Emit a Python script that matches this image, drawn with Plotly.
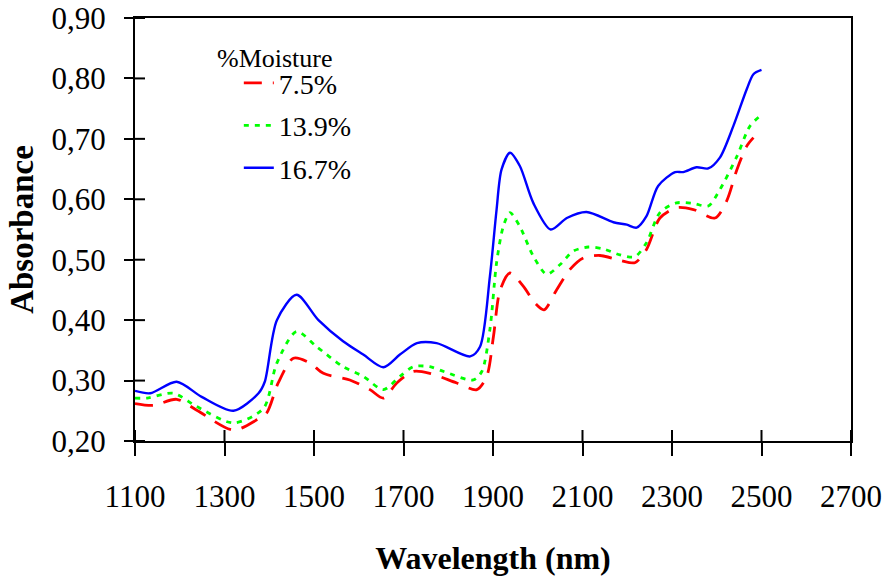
import plotly.graph_objects as go

# ---- data ----
series_names = ["7.5%", "13.9%", "16.7%"]

wl_75 = [1100, 1141, 1193, 1238, 1320, 1372, 1394, 1420, 1454, 1491, 1521, 1580, 1625, 1655,
         1685, 1722, 1759, 1819, 1864, 1886, 1901, 1916, 1938, 1968, 1994, 2014, 2042, 2072,
         2102, 2139, 2184, 2217, 2243, 2273, 2310, 2348, 2396, 2422, 2445, 2467, 2482]
abs_75 = [0.262, 0.259, 0.269, 0.251, 0.218, 0.235, 0.246, 0.296, 0.337, 0.329, 0.312, 0.301,
          0.285, 0.271, 0.296, 0.315, 0.312, 0.296, 0.285, 0.307, 0.373, 0.450, 0.478, 0.456,
          0.428, 0.417, 0.450, 0.484, 0.503, 0.507, 0.499, 0.495, 0.517, 0.569, 0.586, 0.583,
          0.569, 0.597, 0.649, 0.688, 0.702]

wl_139 = [1100, 1127, 1186, 1238, 1320, 1387, 1417, 1461, 1506, 1565, 1610, 1655, 1692, 1722,
          1759, 1790, 1856, 1875, 1893, 1908, 1923, 1938, 1960, 1990, 2020, 2050, 2079, 2113,
          2146, 2184, 2217, 2243, 2273, 2310, 2348, 2381, 2407, 2445, 2474, 2497]
abs_139 = [0.271, 0.271, 0.279, 0.257, 0.230, 0.254, 0.329, 0.381, 0.356, 0.323, 0.307, 0.285,
           0.307, 0.323, 0.323, 0.315, 0.301, 0.315, 0.384, 0.495, 0.555, 0.578, 0.555, 0.506,
           0.476, 0.492, 0.514, 0.521, 0.518, 0.508, 0.505, 0.528, 0.578, 0.594, 0.593, 0.589,
           0.616, 0.671, 0.721, 0.738]

wl_167 = [1100, 1134, 1193, 1249, 1320, 1376, 1390, 1417, 1461, 1510, 1565, 1610, 1655, 1692,
          1730, 1774, 1849, 1871, 1893, 1908, 1919, 1938, 1960, 1990, 2029, 2065, 2109, 2169,
          2199, 2221, 2243, 2269, 2307, 2325, 2355, 2381, 2407, 2437, 2467, 2482, 2500]
abs_167 = [0.283, 0.279, 0.298, 0.273, 0.250, 0.279, 0.298, 0.400, 0.442, 0.400, 0.365, 0.343,
           0.322, 0.343, 0.362, 0.362, 0.340, 0.356, 0.472, 0.583, 0.649, 0.677, 0.655, 0.594,
           0.550, 0.569, 0.579, 0.562, 0.558, 0.553, 0.572, 0.622, 0.645, 0.645, 0.653, 0.651,
           0.669, 0.721, 0.782, 0.807, 0.814]

x_tick_vals = [1100, 1300, 1500, 1700, 1900, 2100, 2300, 2500, 2700]
x_tick_text = ["1100", "1300", "1500", "1700", "1900", "2100", "2300", "2500", "2700"]
y_tick_vals = [0.20, 0.30, 0.40, 0.50, 0.60, 0.70, 0.80, 0.90]
y_tick_text = ["0,20", "0,30", "0,40", "0,50", "0,60", "0,70", "0,80", "0,90"]
legend_title = "%Moisture"

FONT = "Liberation Serif, Times New Roman, serif"

W, H = 887, 576
ML, MR, MT, MB = 135, 36, 18, 135
PW, PH = W - ML - MR, H - MT - MB

fig = go.Figure()
styles = [
    dict(color="#FF0000", width=2.8, dash="18px,11px"),
    dict(color="#00FF00", width=2.8, dash="5px,6px"),
    dict(color="#0000FF", width=2.4, dash="solid"),
]
for name, xs, ys, st, g in zip(series_names, [wl_75, wl_139, wl_167],
                               [abs_75, abs_139, abs_167], styles, ["a", "b", "c"]):
    fig.add_trace(go.Scatter(x=xs, y=ys, name=name, mode="lines", legendgroup=g,
                             line=dict(shape="spline", smoothing=0.8, **st)))

axis_common = dict(showgrid=False, zeroline=False, showline=True, linecolor="black",
                   linewidth=2, mirror=True, ticks="outside", tickcolor="black",
                   tickwidth=2, automargin=False, ticklabeloverflow="allow",
                   tickfont=dict(family=FONT, size=31, color="black"))

# inner halves of the crossing tick marks (placed at the tick values)
tick_shapes = []
for v in x_tick_vals:
    tick_shapes.append(dict(type="line", xref="x", yref="paper", x0=v, x1=v,
                            y0=0, y1=11 / PH, line=dict(color="black", width=2)))
for v in y_tick_vals:
    tick_shapes.append(dict(type="line", xref="paper", yref="y", x0=0, x1=10 / PW,
                            y0=v, y1=v, line=dict(color="black", width=2)))

fig.update_layout(
    width=W, height=H,
    margin=dict(l=ML, r=MR, t=MT, b=MB, autoexpand=False),
    paper_bgcolor="white", plot_bgcolor="white",
    font=dict(family=FONT, color="black"),
    xaxis=dict(range=[1100, 2700], tickvals=x_tick_vals, ticktext=x_tick_text,
               ticklen=13, ticklabelstandoff=14,
               title=dict(text="<b>Wavelength (nm)</b>", font=dict(family=FONT, size=32),
                          standoff=38),
               **axis_common),
    yaxis=dict(range=[0.20, 0.90], tickvals=y_tick_vals, ticktext=y_tick_text,
               ticklen=9, ticklabelstandoff=12,
               title=dict(text="<b>Absorbance</b>", font=dict(family=FONT, size=33),
                          standoff=8),
               **axis_common),
    shapes=tick_shapes,
    showlegend=True,
    legend=dict(x=0.145, y=0.905, xanchor="left", yanchor="top",
                bgcolor="rgba(0,0,0,0)", tracegroupgap=3,
                font=dict(family=FONT, size=28, color="black")),
    annotations=[dict(text=legend_title, xref="paper", yref="paper", x=0.1955, y=0.905,
                      xanchor="center", yanchor="middle", showarrow=False,
                      font=dict(family=FONT, size=26, color="black"))],
)

# remove the page's default body margin so the figure fills the window exactly
fig.write_html("out.html", config={"displayModeBar": False},
               post_script="document.body.style.margin='0';")
